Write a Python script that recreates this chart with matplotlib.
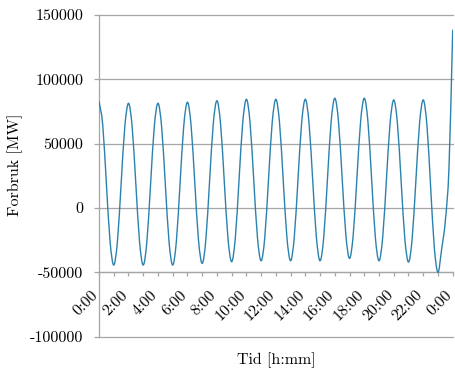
import numpy as np
import matplotlib
matplotlib.use("Agg")
import matplotlib.pyplot as plt
from matplotlib.path import Path
from matplotlib.patches import PathPatch
from matplotlib.ticker import FixedLocator, FuncFormatter
from matplotlib.transforms import ScaledTranslation

# consumption sampled every 15 minutes, 0:00 .. 24:00
step_minutes = 15
forbruk = [
    83000, 65000, 19100, -25800,
    -44300, -26000, 18550, 63050,
    81400, 63050, 18550, -25950,
    -44300, -25950, 18550, 63050,
    81400, 63050, 18550, -25950,
    -44300, -25830, 18950, 63730,
    82200, 63920, 19600, -24720,
    -43000, -24550, 20200, 64950,
    83400, 65140, 20850, -23440,
    -41700, -23270, 21400, 66070,
    84500, 66180, 21750, -22680,
    -41000, -22680, 21750, 66180,
    84500, 66180, 21750, -22680,
    -41000, -22680, 21750, 66180,
    84500, 66180, 21750, -22680,
    -41000, -22560, 22150, 66860,
    85300, 67140, 23100, -20940,
    -39100, -20940, 23100, 67140,
    85300, 66860, 22150, -22560,
    -41000, -22750, 21500, 65750,
    84000, 65600, 21000, -23600,
    -42000, -23600, 21000, 65600,
    84000, 64440, 17000, -30440,
    -50000, -32000, -10000, 32000,
    138500,
]
label_hours = list(range(0, 25, 2))
y_ticks = [-100000, -50000, 0, 50000, 100000, 150000]


def smooth_path(x, y):
    # smoothed line (Catmull-Rom as cubic Bezier), like a spreadsheet chart
    pts = np.column_stack([x, y]).astype(float)
    ext = np.vstack([2 * pts[0] - pts[1], pts, 2 * pts[-1] - pts[-2]])
    verts = [pts[0]]
    codes = [Path.MOVETO]
    for i in range(len(pts) - 1):
        p0, p1, p2, p3 = ext[i], ext[i + 1], ext[i + 2], ext[i + 3]
        verts += [p1 + (p2 - p0) / 6, p2 - (p3 - p1) / 6, p2]
        codes += [Path.CURVE4] * 3
    return Path(verts, codes)


hours = np.arange(len(forbruk)) * step_minutes / 60.0

plt.rcParams["font.family"] = ["cmr10", "DejaVu Serif"]
plt.rcParams["axes.formatter.use_mathtext"] = True

fig = plt.figure(figsize=(4.55, 3.68), dpi=100)
ax = fig.add_axes([99 / 455, 1 - 336.7 / 368, 353.7 / 455, 321.7 / 368])

grid_color = "#a6a6a6"
ax.add_patch(PathPatch(smooth_path(hours, forbruk), fill=False,
                       edgecolor="#2b82ad", linewidth=1.0, zorder=3))

ax.set_xlim(0, 24)
ax.set_ylim(-100000, 150000)

ax.yaxis.set_major_locator(FixedLocator(y_ticks))
ax.yaxis.set_major_formatter(FuncFormatter(lambda v, p: str(int(v))))
ax.xaxis.set_major_locator(FixedLocator(label_hours))
ax.xaxis.set_minor_locator(FixedLocator(range(0, 25)))
ax.xaxis.set_major_formatter(FuncFormatter(lambda v, p: f"{int(v) % 24}:00"))

ax.grid(axis="y", color=grid_color, linewidth=0.9, zorder=1)
for line in ax.get_ygridlines():
    line.set_clip_on(False)

for side in ("top", "right"):
    ax.spines[side].set_visible(False)
ax.spines["left"].set_color(grid_color)
ax.spines["bottom"].set_color(grid_color)
ax.spines["left"].set_linewidth(0.9)
ax.spines["bottom"].set_linewidth(0.9)
ax.spines["bottom"].set_position(("data", -50000))

ax.tick_params(axis="y", direction="out", length=3.6, width=0.9,
               color=grid_color, pad=7.7, labelsize=11.5)
ax.tick_params(axis="x", which="both", direction="out", length=2.9,
               width=0.9, color=grid_color)
ax.tick_params(axis="x", which="major", pad=8.4, labelsize=11.5)

offset = ScaledTranslation(2 / 100, 0, fig.dpi_scale_trans)
for lbl in ax.get_xticklabels():
    lbl.set_rotation(45)
    lbl.set_ha("right")
    lbl.set_va("top")
    lbl.set_transform(lbl.get_transform() + offset)

ax.set_ylabel("Forbruk [MW]", fontsize=11.5)
ax.yaxis.set_label_coords(-0.215, 0.535)
ax.set_xlabel("Tid [h:mm]", fontsize=11.5)
ax.xaxis.set_label_coords(0.5, -0.05)

fig.savefig("out.png", dpi=100)
